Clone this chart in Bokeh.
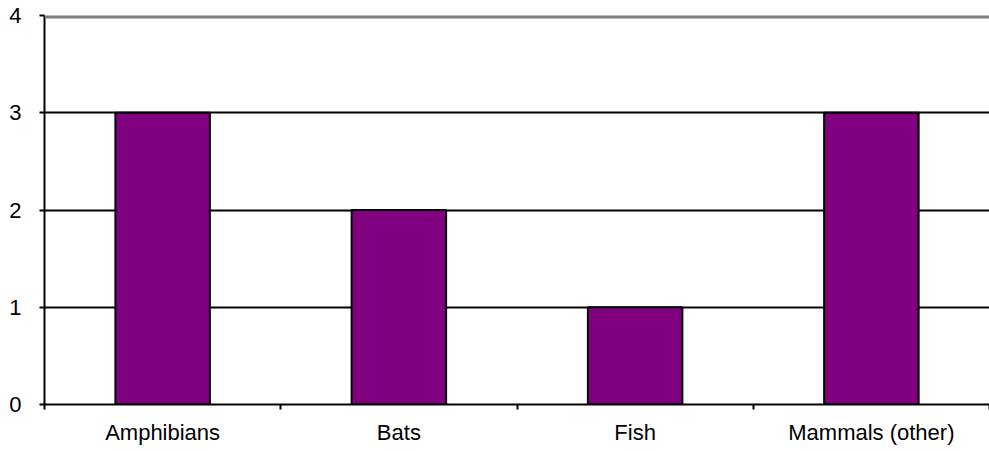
from bokeh.plotting import figure
from bokeh.models import FixedTicker, ColumnDataSource, Range1d, Span
from bokeh.embed import file_html
from bokeh.resources import INLINE

categories = ["Amphibians", "Bats", "Fish", "Mammals (other)"]
counts = [3, 2, 1, 3]
y_ticks = [0, 1, 2, 3, 4]
y_max = 4

xs = [i + 0.5 for i in range(len(categories))]
src = ColumnDataSource(dict(x=xs, top=counts, cat=categories))

p = figure(width=989, height=451, output_backend="svg", toolbar_location=None,
           x_range=Range1d(0, len(categories)), y_range=Range1d(0, y_max),
           min_border_left=44, min_border_top=15, min_border_bottom=47, min_border_right=0)
p.outline_line_color = None
p.background_fill_color = "white"
p.border_fill_color = "white"

top_line = Span(location=y_max, dimension="width", line_color="#808080", line_width=6)
p.add_layout(top_line)

p.vbar(x="x", top="top", width=0.4, bottom=0, source=src,
       fill_color="#800080", line_color="black", line_width=2)

# x axis
xa = p.xaxis[0]
xa.ticker = FixedTicker(ticks=xs, minor_ticks=list(range(len(categories) + 1)))
xa.major_label_overrides = {x: c for x, c in zip(xs, categories)}
xa.major_tick_line_color = None
xa.major_tick_out = 0
xa.major_tick_in = 0
xa.minor_tick_line_color = "black"
xa.minor_tick_line_width = 2
xa.minor_tick_out = 5
xa.minor_tick_in = 0
xa.axis_line_color = "black"
xa.axis_line_width = 2
xa.major_label_text_font = "Liberation Sans"
xa.major_label_text_font_size = "22px"
xa.major_label_text_color = "black"
xa.major_label_standoff = 10

# y axis
ya = p.yaxis[0]
ya.ticker = FixedTicker(ticks=y_ticks, minor_ticks=[])
ya.axis_line_color = "black"
ya.axis_line_width = 2
ya.major_tick_line_color = "black"
ya.major_tick_line_width = 2
ya.major_tick_out = 5
ya.major_tick_in = 0
ya.minor_tick_line_color = None
ya.major_label_text_font = "Liberation Sans"
ya.major_label_text_font_size = "22px"
ya.major_label_text_color = "black"
ya.major_label_standoff = 18

p.xgrid.grid_line_color = None
p.ygrid.ticker = FixedTicker(ticks=[1, 2, 3])
p.ygrid.grid_line_color = "black"
p.ygrid.grid_line_width = 2

open("out.html", "w").write(file_html(p, INLINE))
